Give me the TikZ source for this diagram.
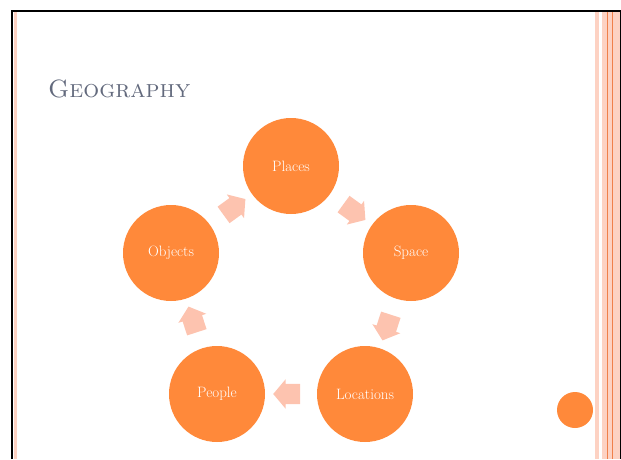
\documentclass[tikz,border=0pt]{standalone}
\usepackage{tikz}
\usepackage{xcolor}
\usetikzlibrary{shapes.arrows,calc}
\definecolor{geoorange}{RGB}{255,137,58}
\definecolor{geosalmon}{RGB}{253,195,175}
\definecolor{geostripe}{RGB}{253,210,195}
\definecolor{geoline}{RGB}{240,128,74}
\definecolor{geotitle}{RGB}{99,106,125}

\begin{document}
\begin{tikzpicture}[x=1pt,y=1pt,
	stage/.style={circle,fill=geoorange,text=white,minimum size=96pt,inner sep=0pt,
		font=\fontsize{15}{18}\selectfont},
	flow/.style={single arrow,fill=geosalmon,draw=none,inner xsep=0pt,inner ysep=10pt,
		minimum height=27pt,single arrow head extend=4.5pt,
		single arrow tip angle=100}]
			\useasboundingbox (0,0) rectangle (621,459);
			% frame and stripes
			\fill[geostripe] (14,0) rectangle (17,448);
			\fill[geostripe] (595,0) rectangle (599,448);
			\fill[geostripe] (602,0) rectangle (620,448);
			\draw[geoline,line width=1pt] (607.5,0) -- (607.5,448);
			\draw[geoline,line width=1pt] (612.5,0) -- (612.5,448);
			\draw[black,line width=2pt] (11.5,0) -- (11.5,447.5) -- (621,447.5);
			\draw[black,line width=1pt] (620.5,0) -- (620.5,447.5);
			
			\node[anchor=base west,text=geotitle,inner sep=0pt,font=\fontsize{25}{30}\selectfont] (title) at (48,362) {\textsc{Geography}};
			
			\node[stage] (places)    at (291,293) {Places};
			\node[stage] (space)     at (411,206) {Space};
			\node[stage] (locations) at (365,65)  {Locations};
			\node[stage] (people)    at (217,65)  {People};
			\node[stage] (objects)   at (171,206) {Objects};
			
			\node[flow,rotate=-36]  (a1) at ($(places)!0.5!(space)$) {};
			\node[flow,rotate=-108] (a2) at ($(space)!0.5!(locations)$) {};
			\node[flow,rotate=180]  (a3) at ($(locations)!0.5!(people)$) {};
			\node[flow,rotate=108]  (a4) at ($(people)!0.5!(objects)$) {};
			\node[flow,rotate=36]   (a5) at ($(objects)!0.5!(places)$) {};
			
			\node[circle,fill=geoorange,minimum size=36pt,inner sep=0pt] (dot) at (575,49) {};
		\end{tikzpicture}
\end{document}
